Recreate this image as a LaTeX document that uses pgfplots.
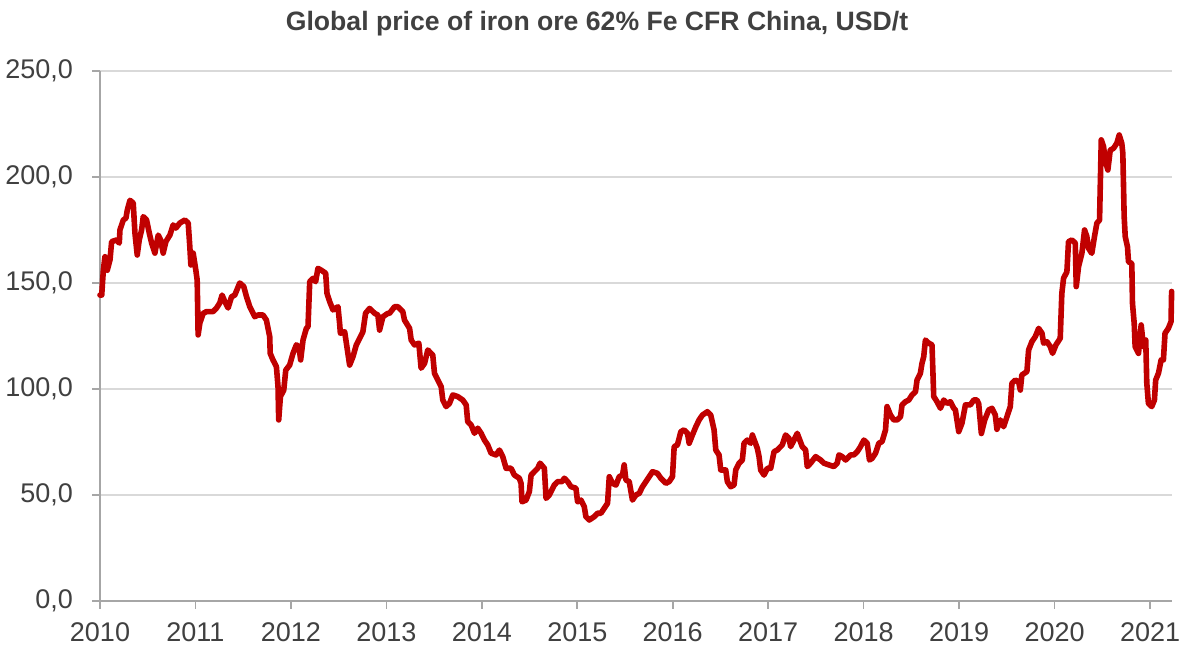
\documentclass[border=0pt]{standalone}
\usepackage{pgfplots}
\pgfplotsset{compat=1.18}
\usepackage{fontspec}
\setmainfont{Liberation Sans}
\definecolor{linered}{RGB}{192,0,0}
\definecolor{gridgray}{RGB}{217,217,217}
\definecolor{axgray}{RGB}{166,166,166}
\definecolor{txtgray}{RGB}{64,64,64}
\begin{document}
\begin{tikzpicture}
\useasboundingbox (-50pt,-22.5pt) rectangle (540pt,300.5pt);
\begin{axis}[
  at={(0pt,0pt)}, anchor=south west,
  scale only axis, width=536pt, height=265pt,
  xmin=2010, xmax=2021.23, ymin=0, ymax=250,
  xtick={2010,2011,...,2021},
  ytick={0,50,...,250},
  axis x line*=bottom, axis y line*=left,
  axis line style={-, draw=axgray, line width=1pt},
  tick align=outside, major tick length=4pt,
  tick style={draw=axgray, line width=0.8pt},
  ymajorgrids, grid style={draw=gridgray, line width=1pt},
  ticklabel style={font=\fontsize{13.5}{16}\selectfont, text=txtgray},
  xticklabel style={yshift=-3.5pt, /pgf/number format/1000 sep={}, /pgf/number format/assume math mode=true},
  yticklabel style={xshift=-6pt, /pgf/number format/.cd, fixed, fixed zerofill, precision=1, use comma, assume math mode=true},
  clip=false,
]
\addplot[linered, line width=2.8pt, line join=round, line cap=round] coordinates {
(2010.000,144.3)(2010.018,144.3)(2010.035,156)(2010.052,162.4)(2010.076,156)(2010.105,161)(2010.122,169.5)
(2010.175,170.3)(2010.202,168.8)(2010.209,175)(2010.244,179.7)(2010.272,180.6)(2010.286,184.4)
(2010.314,189)(2010.348,187.7)(2010.366,173.6)(2010.390,163.2)(2010.411,170.3)(2010.436,175)
(2010.453,181.3)(2010.488,179.7)(2010.516,173.6)(2010.541,168.8)(2010.575,164.1)(2010.610,172.6)
(2010.635,170.3)(2010.662,164.1)(2010.690,169.5)(2010.732,172.6)(2010.767,177.4)(2010.795,175.9)
(2010.837,178.3)(2010.889,179.7)(2010.924,178.3)(2010.941,167.1)(2010.952,158.5)(2010.976,164.1)
(2011.004,156)(2011.018,151.4)(2011.028,125.5)(2011.046,131.1)(2011.081,135.7)(2011.116,136.5)
(2011.185,136.5)(2011.221,138.2)(2011.255,140.6)(2011.279,144.3)(2011.308,141.2)(2011.342,138.2)
(2011.378,143.5)(2011.412,144.3)(2011.464,150)(2011.506,148.3)(2011.535,143.5)(2011.569,138.8)
(2011.604,135.7)(2011.621,134.1)(2011.656,134.9)(2011.708,134.9)(2011.743,132.5)(2011.778,124.7)
(2011.783,116.8)(2011.812,113.7)(2011.848,110.5)(2011.865,101.1)(2011.872,85.4)(2011.890,96.4)
(2011.925,99.5)(2011.946,108.9)(2011.987,111.3)(2012.022,116.8)(2012.057,120.8)(2012.084,120)
(2012.102,113.7)(2012.127,123.1)(2012.162,128.6)(2012.179,129.4)(2012.197,150.6)(2012.231,152.2)
(2012.259,150.6)(2012.283,156.9)(2012.319,156)(2012.364,154.6)(2012.378,145.1)(2012.406,141.2)
(2012.441,137.3)(2012.493,138.8)(2012.510,131)(2012.518,126.3)(2012.563,127)(2012.597,116.8)
(2012.615,111.3)(2012.650,115.2)(2012.685,120.8)(2012.720,123.9)(2012.754,127)(2012.782,135.7)
(2012.824,138)(2012.877,135.7)(2012.911,134.9)(2012.929,127.8)(2012.964,134.1)(2013.016,135.7)
(2013.033,135.7)(2013.086,138.8)(2013.120,138.8)(2013.172,136.5)(2013.190,132.5)(2013.243,128.6)
(2013.260,123.1)(2013.295,120.8)(2013.340,121.6)(2013.364,109.8)(2013.400,112.1)(2013.434,118.4)
(2013.486,116)(2013.504,107.4)(2013.539,104.2)(2013.574,101.1)(2013.591,94.8)(2013.626,91.7)
(2013.661,93.2)(2013.696,97.2)(2013.748,96.4)(2013.800,94.8)(2013.836,92.5)(2013.852,84.6)
(2013.888,83)(2013.923,79.1)(2013.957,81.5)(2013.993,79.1)(2014.027,75.9)(2014.062,73.6)
(2014.097,69.7)(2014.149,68.9)(2014.184,71.2)(2014.219,68.1)(2014.254,62.6)(2014.306,62.6)
(2014.341,59.4)(2014.393,57.9)(2014.411,55.5)(2014.421,46.8)(2014.463,47.6)(2014.498,51.6)
(2014.516,59.4)(2014.550,61)(2014.585,62.6)(2014.610,65)(2014.655,62.6)(2014.673,48.4)
(2014.707,50)(2014.759,54.7)(2014.794,56.3)(2014.840,56.3)(2014.864,57.9)(2014.899,56.3)
(2014.934,53.9)(2014.986,53.2)(2015.003,46.8)(2015.038,47.6)(2015.073,44.5)(2015.090,39.8)
(2015.126,38.2)(2015.178,39.8)(2015.212,41.4)(2015.248,41.4)(2015.282,43.7)(2015.317,46.1)
(2015.335,58.6)(2015.369,55.5)(2015.405,54.7)(2015.439,58.6)(2015.474,59.4)(2015.491,64.2)
(2015.509,57.1)(2015.544,56.3)(2015.578,47.6)(2015.614,50)(2015.649,50.8)(2015.683,53.9)
(2015.719,56.3)(2015.753,58.6)(2015.788,61)(2015.840,60.2)(2015.875,57.9)(2015.928,55.5)
(2015.962,56.3)(2015.997,58.6)(2016.015,72.8)(2016.049,73.6)(2016.085,79.9)(2016.119,80.7)
(2016.154,79.1)(2016.172,74.4)(2016.206,78.3)(2016.242,82.2)(2016.276,85.4)(2016.311,87.7)
(2016.363,89.3)(2016.398,87.7)(2016.433,80.7)(2016.451,71.2)(2016.485,68.9)(2016.503,61.8)
(2016.555,61.8)(2016.572,56.3)(2016.607,53.9)(2016.642,54.7)(2016.660,61.8)(2016.695,65)
(2016.729,66.5)(2016.747,74.4)(2016.781,75.9)(2016.817,74.4)(2016.834,78.3)(2016.886,72)
(2016.904,68.1)(2016.921,61.8)(2016.956,59.4)(2016.991,62.6)(2017.026,62.6)(2017.061,70.4)
(2017.095,71.2)(2017.147,73.6)(2017.182,78.3)(2017.218,76.7)(2017.235,72.8)(2017.270,75.9)
(2017.304,79.1)(2017.357,72.8)(2017.392,71.2)(2017.409,63.4)(2017.444,65)(2017.497,68.1)
(2017.549,66.5)(2017.584,65)(2017.636,64.2)(2017.688,63.4)(2017.723,65)(2017.741,68.9)
(2017.775,68.1)(2017.811,66.5)(2017.863,68.9)(2017.897,68.9)(2017.932,70.4)(2017.967,72.8)
(2018.002,75.9)(2018.037,74.4)(2018.061,66.5)(2018.089,67.3)(2018.124,69.7)(2018.159,74.4)
(2018.193,75.2)(2018.229,80.7)(2018.245,91.7)(2018.281,87.7)(2018.316,85.4)(2018.350,85.4)
(2018.386,86.9)(2018.402,92.5)(2018.438,94)(2018.473,94.8)(2018.507,97.2)(2018.543,98.7)
(2018.559,104.2)(2018.594,107.4)(2018.611,112.1)(2018.629,115.2)(2018.647,123.1)(2018.682,121.6)
(2018.716,120.8)(2018.734,96.4)(2018.769,94)(2018.804,90.9)(2018.839,94.8)(2018.873,93.2)
(2018.908,94)(2018.944,90.9)(2018.961,90.1)(2018.996,79.9)(2019.030,83.9)(2019.066,92.5)
(2019.118,92.5)(2019.153,94.8)(2019.187,94.8)(2019.205,93)(2019.233,79)(2019.268,85.4)
(2019.310,90.1)(2019.344,90.9)(2019.379,87.7)(2019.396,81)(2019.432,85.4)(2019.466,82.2)
(2019.501,86.9)(2019.536,91.7)(2019.553,102.7)(2019.589,104.2)(2019.623,103.4)(2019.641,99.5)
(2019.657,106.6)(2019.710,108.2)(2019.728,118.4)(2019.762,122.3)(2019.798,124.7)(2019.833,128.6)
(2019.868,126.3)(2019.885,121.6)(2019.920,122.3)(2019.955,120)(2019.979,116.8)(2020.014,120.8)
(2020.059,123.9)(2020.076,145.1)(2020.094,152.2)(2020.129,155.3)(2020.146,169.5)(2020.181,170.3)
(2020.217,168.8)(2020.227,148.3)(2020.251,157.7)(2020.286,164)(2020.314,175)(2020.338,171.9)
(2020.356,166.3)(2020.390,164)(2020.418,171.9)(2020.443,178.2)(2020.471,179.7)(2020.489,217.5)
(2020.513,214.3)(2020.530,208)(2020.558,203.3)(2020.583,212.7)(2020.617,213.5)(2020.652,215.9)
(2020.677,219.8)(2020.704,215.9)(2020.715,211.2)(2020.729,181.3)(2020.740,171.9)(2020.764,167)
(2020.774,160)(2020.809,159.2)(2020.816,140.4)(2020.834,131)(2020.844,120)(2020.879,116.8)
(2020.907,130.2)(2020.931,120)(2020.955,123.1)(2020.966,102.7)(2020.983,93.2)(2021.018,91.7)
(2021.046,94.8)(2021.059,104.2)(2021.088,107.4)(2021.116,113.7)(2021.140,113.7)(2021.157,126.3)
(2021.192,128.6)(2021.220,131.8)(2021.226,146)
};
\end{axis}
\node[font=\bfseries\fontsize{13.3}{16}\selectfont, text=txtgray] at (248.5pt,288.5pt) {Global price of iron ore 62\% Fe CFR China, USD/t};
\end{tikzpicture}
\end{document}
